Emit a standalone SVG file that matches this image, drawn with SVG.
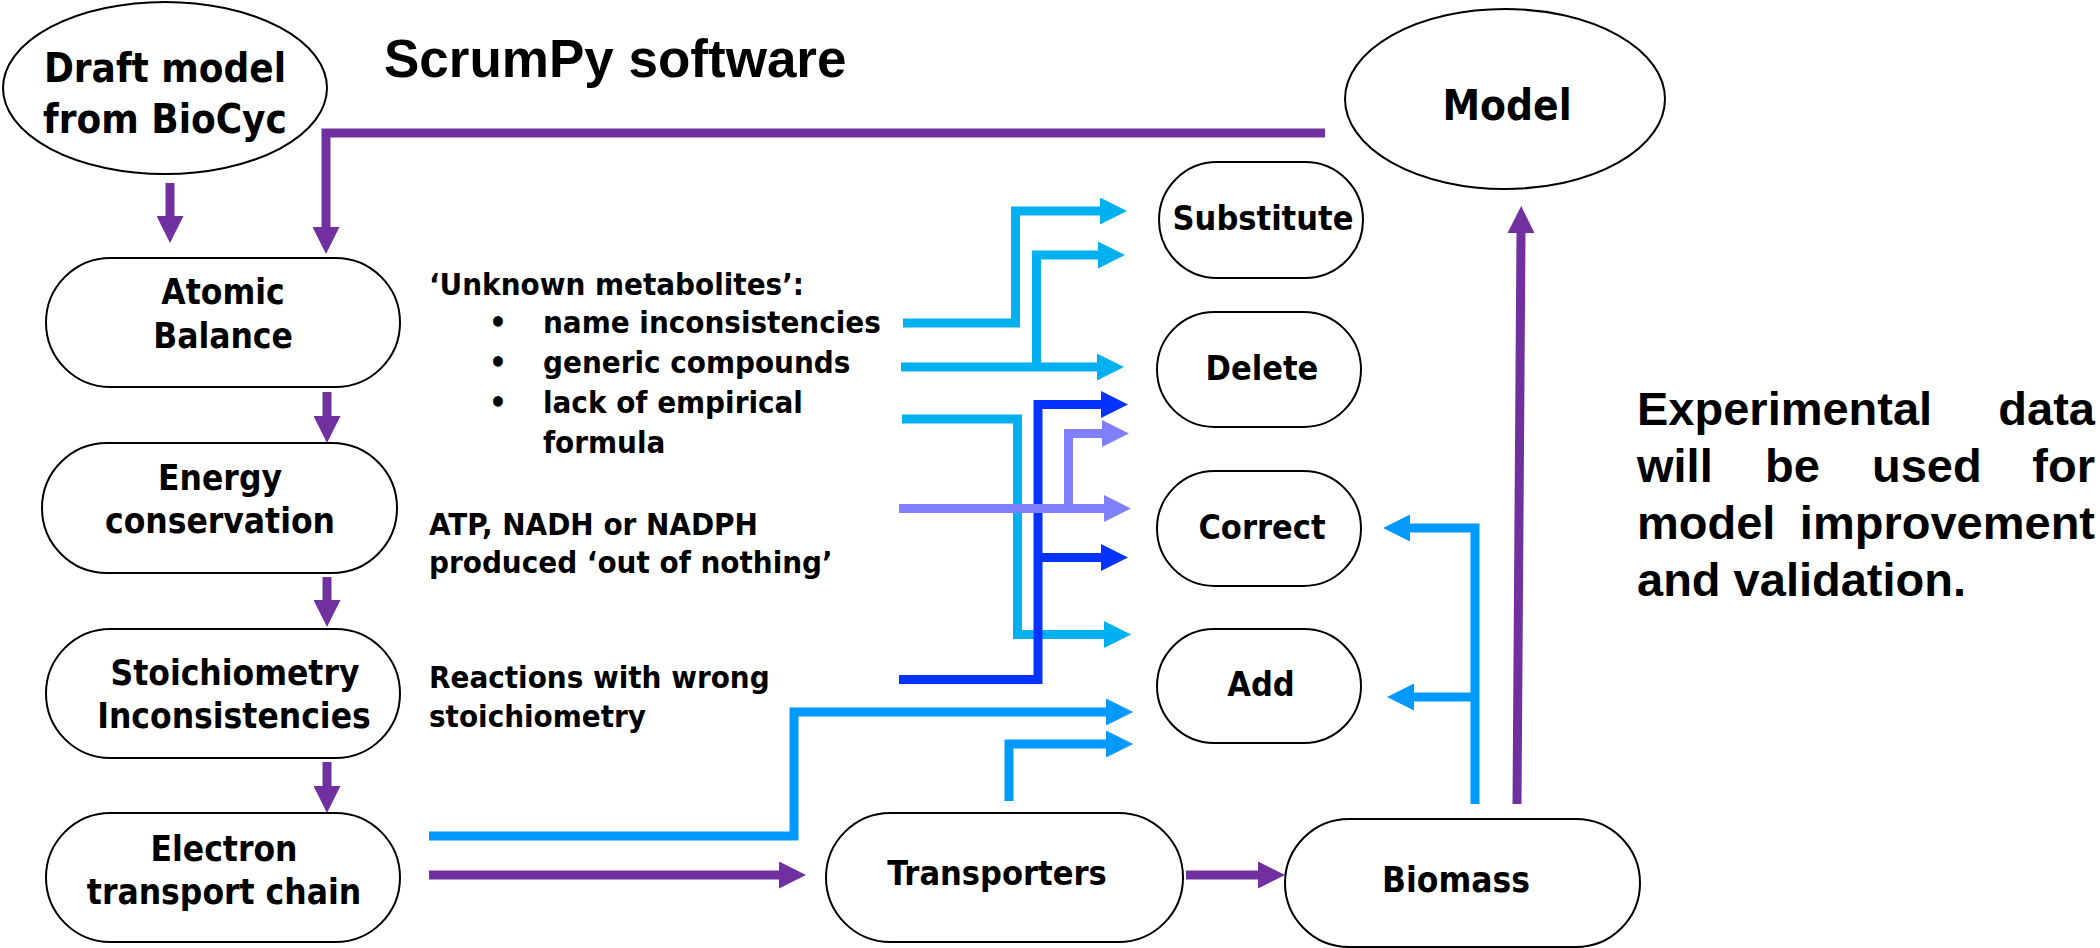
<svg xmlns="http://www.w3.org/2000/svg" width="2100" height="948" viewBox="0 0 2100 948">
<style>
.node{fill:#fff;stroke:#000;stroke-width:2}
.nt{font-family:'DejaVu Sans Condensed','DejaVu Sans',sans-serif;font-stretch:condensed;font-weight:bold;fill:#000;text-anchor:middle}
.lt{font-family:'DejaVu Sans Condensed','DejaVu Sans',sans-serif;font-stretch:condensed;font-weight:bold;fill:#000;font-size:31px}
.ar{font-family:'Liberation Sans',Arial,sans-serif;font-weight:bold;fill:#000}
.c{fill:none;stroke-width:9;stroke-linejoin:miter;stroke-linecap:butt}
.pu{stroke:#7030A0;marker-end:url(#mP)}
.cy{stroke:#00B0F0;marker-end:url(#mC)}
.db{stroke:#0433FF;marker-end:url(#mD)}
.lv{stroke:#8080FF;marker-end:url(#mL)}
.az{stroke:#0099FF;marker-end:url(#mA)}
</style>
<defs>
<marker id="mP" markerUnits="userSpaceOnUse" markerWidth="27" markerHeight="27" viewBox="0 0 27 27" refX="1" refY="13.5" orient="auto"><path d="M0,0 L27,13.5 L0,27 z" fill="#7030A0"/></marker>
<marker id="mC" markerUnits="userSpaceOnUse" markerWidth="27" markerHeight="27" viewBox="0 0 27 27" refX="1" refY="13.5" orient="auto"><path d="M0,0 L27,13.5 L0,27 z" fill="#00B0F0"/></marker>
<marker id="mD" markerUnits="userSpaceOnUse" markerWidth="27" markerHeight="27" viewBox="0 0 27 27" refX="1" refY="13.5" orient="auto"><path d="M0,0 L27,13.5 L0,27 z" fill="#0433FF"/></marker>
<marker id="mL" markerUnits="userSpaceOnUse" markerWidth="27" markerHeight="27" viewBox="0 0 27 27" refX="1" refY="13.5" orient="auto"><path d="M0,0 L27,13.5 L0,27 z" fill="#8080FF"/></marker>
<marker id="mA" markerUnits="userSpaceOnUse" markerWidth="27" markerHeight="27" viewBox="0 0 27 27" refX="1" refY="13.5" orient="auto"><path d="M0,0 L27,13.5 L0,27 z" fill="#0099FF"/></marker>
</defs>
<rect width="2100" height="948" fill="#fff"/>

<g id="title"><text class="ar" x="384" y="77" font-size="53">ScrumPy software</text></g>

<g id="connectors">
<path class="c pu" d="M170,183 V217"/>
<path class="c pu" d="M1325,133 H326 V228"/>
<path class="c pu" d="M327,392 V417"/>
<path class="c pu" d="M327,577 V601"/>
<path class="c pu" d="M327,762 V787"/>
<path class="c pu" d="M429,875 H780"/>
<path class="c pu" d="M1186,875 H1259"/>
<path class="c pu" d="M1517,804 L1521,232"/>
<path class="c cy" d="M903,323 H1015.5 V211 H1101"/>
<path class="c cy" d="M901,367 H1098"/>
<path class="c cy" d="M1036.5,367 V255 H1099"/>
<path class="c cy" d="M902,419 H1017.5 V634.5 H1105"/>
<path class="c db" d="M899,679.5 H1038 V404.5 H1102"/>
<path class="c db" d="M1038,557.5 H1102"/>
<path class="c lv" d="M899,508.5 H1105"/>
<path class="c lv" d="M1068.5,508.5 V433.5 H1103"/>
<path class="c az" d="M429,836 H794 V712 H1107"/>
<path class="c az" d="M1009,801 V744 H1107"/>
<path class="c az" d="M1475,804 V528 H1409"/>
<path class="c az" d="M1475,697 H1413"/>
</g>

<g id="draft">
<ellipse class="node" cx="165" cy="88" rx="162" ry="86"/>
<text class="nt" x="165" y="82" font-size="40">Draft model</text>
<text class="nt" x="165" y="133" font-size="40">from BioCyc</text>
</g>
<g id="model">
<ellipse class="node" cx="1505" cy="99" rx="160" ry="90"/>
<text class="nt" x="1507" y="120" font-size="42">Model</text>
</g>
<g id="atomic">
<rect class="node" x="46" y="258" width="354" height="129" rx="64.5"/>
<text class="nt" x="223" y="304" font-size="35">Atomic</text>
<text class="nt" x="223" y="348" font-size="35">Balance</text>
</g>
<g id="energy">
<rect class="node" x="42" y="443" width="355" height="130" rx="65"/>
<text class="nt" x="220" y="490" font-size="35">Energy</text>
<text class="nt" x="220" y="533" font-size="35">conservation</text>
</g>
<g id="stoich">
<rect class="node" x="46" y="629" width="354" height="129" rx="64.5"/>
<text class="nt" x="235" y="685" font-size="35">Stoichiometry</text>
<text class="nt" x="234" y="728" font-size="35">Inconsistencies</text>
</g>
<g id="etc">
<rect class="node" x="46" y="813" width="354" height="129" rx="64.5"/>
<text class="nt" x="224" y="861" font-size="35">Electron</text>
<text class="nt" x="224" y="904" font-size="35">transport chain</text>
</g>
<g id="transporters">
<rect class="node" x="826" y="813" width="357" height="129" rx="64.5"/>
<text class="nt" x="997" y="885" font-size="34">Transporters</text>
</g>
<g id="biomass">
<rect class="node" x="1285" y="819" width="355" height="128" rx="64"/>
<text class="nt" x="1456" y="892" font-size="35">Biomass</text>
</g>
<g id="substitute">
<rect class="node" x="1159" y="162" width="204" height="116" rx="58"/>
<text class="nt" x="1263" y="230" font-size="34">Substitute</text>
</g>
<g id="delete">
<rect class="node" x="1157" y="312" width="204" height="115" rx="57.5"/>
<text class="nt" x="1262" y="380" font-size="34">Delete</text>
</g>
<g id="correct">
<rect class="node" x="1157" y="471" width="204" height="115" rx="57.5"/>
<text class="nt" x="1262" y="539" font-size="34">Correct</text>
</g>
<g id="add">
<rect class="node" x="1157" y="629" width="204" height="114" rx="57"/>
<text class="nt" x="1261" y="696" font-size="34">Add</text>
</g>

<g id="labels">
<text class="lt" x="429" y="295">‘Unknown metabolites’:</text>
<text class="lt" x="498" y="333" text-anchor="middle">•</text>
<text class="lt" x="498" y="373" text-anchor="middle">•</text>
<text class="lt" x="498" y="413" text-anchor="middle">•</text>
<text class="lt" x="543" y="333">name inconsistencies</text>
<text class="lt" x="543" y="373">generic compounds</text>
<text class="lt" x="543" y="413">lack of empirical</text>
<text class="lt" x="543" y="453">formula</text>
<text class="lt" x="429" y="535">ATP, NADH or NADPH</text>
<text class="lt" x="429" y="573">produced ‘out of nothing’</text>
<text class="lt" x="429" y="688">Reactions with wrong</text>
<text class="lt" x="429" y="727">stoichiometry</text>
</g>

<g id="note" class="ar" font-size="47">
<text x="1637" y="425">Experimental</text>
<text x="2095" y="425" text-anchor="end">data</text>
<text x="1637" y="482">will</text>
<text x="1765" y="482">be</text>
<text x="1872" y="482">used</text>
<text x="2095" y="482" text-anchor="end">for</text>
<text x="1637" y="539">model</text>
<text x="2095" y="539" text-anchor="end">improvement</text>
<text x="1637" y="596">and validation.</text>
</g>
</svg>
